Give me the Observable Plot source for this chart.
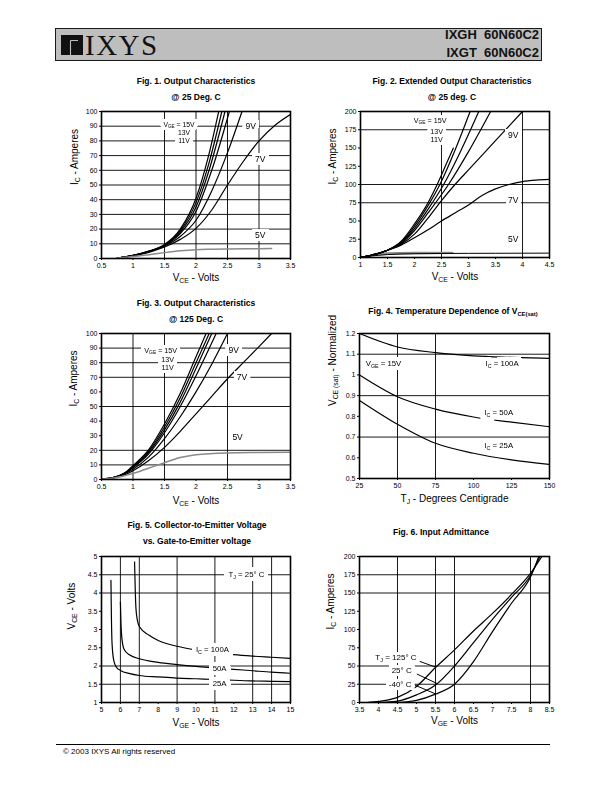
<!DOCTYPE html>
<html><head><meta charset="utf-8">
<script src="https://cdn.jsdelivr.net/npm/d3@7"></script>
<script src="https://cdn.jsdelivr.net/npm/@observablehq/plot@0.6"></script>
<style>
html,body{margin:0;padding:0;background:#fff;}
#page{position:relative;width:595px;height:791px;overflow:hidden;background:#fff;}
#page svg{position:absolute;}
</style></head><body><div id="page"></div><script>
// ---------------- DATA ----------------
// Fig. 1  Output characteristics @ 25 C   (VCE [V], IC [A])
const f1_xTicks = [0.5, 1, 1.5, 2, 2.5, 3, 3.5];
const f1_yTicks = [0, 10, 20, 30, 40, 50, 60, 70, 80, 90, 100];
const f1_gridX = [1.5, 2, 2.5, 3];
const f1_gridY = [10, 20, 30, 40, 50, 60, 70, 80, 90];
const f1_15V = [[0.75,0.3],[1,2.1],[1.25,5],[1.5,9.5],[1.75,20],[2,41],[2.2,70],[2.36,100]];
const f1_13V = [[0.75,0.3],[1,2.1],[1.25,4.9],[1.5,9.2],[1.75,19],[2,38],[2.2,64],[2.41,100]];
const f1_11V = [[0.75,0.3],[1,2],[1.25,4.8],[1.5,9],[1.75,18],[2,35],[2.2,59],[2.46,100]];
const f1_extra = [[0.75,0.3],[1,2],[1.25,4.7],[1.5,8.8],[1.75,17],[2,32],[2.25,60],[2.53,100]];
const f1_9V = [[0.75,0.3],[1,1.9],[1.25,4.5],[1.5,8.5],[1.75,15],[2,26],[2.25,46],[2.5,72],[2.73,100]];
const f1_7V = [[0.75,0.3],[1,1.8],[1.25,4.2],[1.5,7.8],[1.75,13],[2,20.5],[2.25,33],[2.5,50],[2.75,66],[3,80],[3.25,90.5],[3.5,98]];
const f1_5V = [[0.75,0.3],[1,1.3],[1.25,2.6],[1.5,4],[1.75,5.2],[2,6],[2.25,6.3],[2.5,6.5],[3,6.7],[3.2,6.8]];
const f1_vgeLabels = [{x:1.73,y:90.8,text:"V_{GE} = 15V"},{x:1.81,y:85.3,text:"13V"},{x:1.81,y:79.8,text:"11V"}];
const f1_curveLabels = [{x:2.87,y:90.2,text:"9V"},{x:3.02,y:67.4,text:"7V"},{x:3.02,y:15.5,text:"5V"}];

// Fig. 2  Extended output characteristics @ 25 C
const f2_xTicks = [1, 1.5, 2, 2.5, 3, 3.5, 4, 4.5];
const f2_yTicks = [0, 25, 50, 75, 100, 125, 150, 175, 200];
const f2_gridX = [2.5, 4];
const f2_gridY = [75, 100, 175];
const f2_15V = [[1,0.3],[1.25,4],[1.5,10],[1.75,22],[2,46],[2.25,75],[2.42,100],[2.6,130],[2.72,150]];
const f2_13V = [[1,0.3],[1.25,4],[1.5,10],[1.75,21],[2,43],[2.25,71],[2.47,100],[2.75,147],[3.03,200]];
const f2_11V = [[1,0.3],[1.25,4],[1.5,10],[1.75,20],[2,40],[2.25,66],[2.54,100],[2.85,145],[3.19,200]];
const f2_extra = [[1,0.3],[1.25,4],[1.5,10],[1.75,19],[2,37],[2.25,61],[2.63,100],[3,145],[3.41,200]];
const f2_9V = [[1,0.3],[1.25,4],[1.5,10],[1.75,18],[2,32],[2.25,54],[2.5,78],[2.75,100],[3,120],[3.5,160],[4,200]];
const f2_7V = [[1,0.3],[1.25,4],[1.5,10],[1.75,17],[2,27],[2.25,38],[2.5,50],[2.75,61],[3,72],[3.25,85],[3.5,94],[3.75,100],[4,104],[4.25,106],[4.5,107]];
const f2_5V = [[1,0.3],[1.25,2.5],[1.5,4],[1.75,4.8],[2,5.2],[2.5,5.5],[3,5.7],[3.5,5.8],[4,5.9],[4.5,6]];
const f2_5V_shade = [[1.25,4.5],[1.5,5.5],[2,6.2],[2.7,6.4]];
const f2_vgeLabels = [{x:2.29,y:188,text:"V_{GE} = 15V"},{x:2.41,y:173,text:"13V"},{x:2.41,y:162,text:"11V"}];
const f2_curveLabels = [{x:3.83,y:167,text:"9V"},{x:3.83,y:78.5,text:"7V"},{x:3.83,y:25,text:"5V"}];

// Fig. 3  Output characteristics @ 125 C
const f3_xTicks = [0.5, 1, 1.5, 2, 2.5, 3, 3.5];
const f3_yTicks = [0, 10, 20, 30, 40, 50, 60, 70, 80, 90, 100];
const f3_gridX = [1, 1.5, 2.5];
const f3_gridY = [10, 20, 50, 70, 80, 90];
const f3_15V = [[0.5,0.3],[0.7,1.5],[0.9,5.5],[1,9.5],[1.25,20.5],[1.5,38],[1.75,59],[2,84],[2.16,100]];
const f3_13V = [[0.5,0.3],[0.7,1.5],[0.9,5.3],[1,9],[1.25,19.5],[1.5,36],[1.75,56],[2,80],[2.21,100]];
const f3_11V = [[0.5,0.3],[0.7,1.4],[0.9,5.1],[1,8.5],[1.25,18.5],[1.5,34],[1.75,53],[2,76],[2.25,100]];
const f3_extra = [[0.5,0.3],[0.7,1.4],[0.9,5],[1,8],[1.25,17.5],[1.5,32],[1.75,50],[2,71],[2.32,100]];
const f3_9V = [[0.5,0.3],[0.7,1.3],[0.9,4.5],[1,7],[1.25,15.5],[1.5,28],[1.75,43],[2,60],[2.25,79],[2.5,100]];
const f3_7V = [[0.5,0.3],[0.7,1.2],[0.9,3.8],[1,6],[1.25,13],[1.5,22],[1.75,33],[2,45],[2.25,57],[2.5,69],[2.75,80],[3,91],[3.2,100]];
const f3_5V = [[0.5,0.3],[0.7,1],[0.9,3],[1.1,5.5],[1.3,8.5],[1.5,11.5],[1.75,15],[2,17],[2.5,18.2],[3,18.5],[3.5,18.7]];
const f3_vgeLabels = [{x:1.44,y:88.3,text:"V_{GE} = 15V"},{x:1.55,y:82.3,text:"13V"},{x:1.55,y:76.8,text:"11V"}];
const f3_curveLabels = [{x:2.6,y:88.3,text:"9V"},{x:2.73,y:70,text:"7V"},{x:2.66,y:29,text:"5V"}];

// Fig. 4  Temperature dependence of VCE(sat)   (TJ [C], normalized)
const f4_xTicks = [25, 50, 75, 100, 125, 150];
const f4_yTicks = [0.5, 0.6, 0.7, 0.8, 0.9, 1, 1.1, 1.2];
const f4_gridX = [50, 75];
const f4_gridY = [0.7, 0.9, 1.1];
const f4_100A = [[25,1.2],[50,1.135],[75,1.108],[100,1.092],[125,1.085],[150,1.08]];
const f4_50A = [[25,1.0],[50,0.895],[75,0.835],[100,0.797],[125,0.772],[150,0.75]];
const f4_25A = [[25,0.877],[50,0.762],[75,0.67],[100,0.622],[125,0.59],[150,0.568]];
const f4_labels = [{x:40.8,y:1.055,text:"V_{GE} = 15V"},{x:118.8,y:1.055,text:"I_{C} = 100A"},
  {x:116.6,y:0.817,text:"I_{C} = 50A"},{x:116.6,y:0.66,text:"I_{C} = 25A"}];

// Fig. 5  VCE vs VGE   (VGE [V], VCE [V])
const f5_xTicks = [5, 6, 7, 8, 9, 10, 11, 12, 13, 14, 15];
const f5_yTicks = [1, 1.5, 2, 2.5, 3, 3.5, 4, 4.5, 5];
const f5_gridX = [6, 7, 9, 11, 13, 14];
const f5_gridY = [1.5, 2, 4, 4.5];
const f5_100A = [[6.75,4.85],[6.78,4.2],[6.82,3.6],[6.9,3.25],[7,3.08],[7.5,2.85],[8,2.7],[9,2.54],[10,2.44],[11,2.37],[12,2.31],[13,2.27],[14,2.24],[15,2.21]];
const f5_50A = [[6.0,3.75],[6.03,3.2],[6.08,2.75],[6.2,2.45],[6.5,2.3],[7,2.2],[8,2.1],[9,2.04],[10,1.99],[11,1.95],[12,1.91],[13,1.87],[14,1.83],[15,1.8]];
const f5_25A = [[5.5,4.35],[5.52,3.5],[5.56,2.6],[5.65,2.15],[5.8,1.96],[6,1.88],[6.5,1.79],[7,1.74],[8,1.7],[9,1.67],[10,1.65],[11,1.63],[12,1.61],[13,1.59],[14,1.58],[15,1.57]];
const f5_labels = [{x:12.67,y:4.52,text:"T_{J} = 25° C"},{x:10.87,y:2.45,text:"I_{C} = 100A"},
  {x:11.25,y:1.94,text:"50A"},{x:11.25,y:1.53,text:"25A"}];

// Fig. 6  Input admittance   (VGE [V], IC [A])
const f6_xTicks = [3.5, 4, 4.5, 5, 5.5, 6, 6.5, 7, 7.5, 8, 8.5];
const f6_yTicks = [0, 25, 50, 75, 100, 125, 150, 175, 200];
const f6_gridX = [4.5, 5.5, 6, 8];
const f6_gridY = [25, 50, 150, 175];
const f6_125C = [[3.7,0],[4,1.5],[4.5,7],[5,22],[5.5,48],[6,72],[6.5,98],[7,122],[7.5,148],[8,177],[8.3,200]];
const f6_25C = [[4,0],[4.5,2],[5,10.5],[5.5,24],[6,50],[6.5,82],[7,114],[7.5,144],[8,174],[8.25,200]];
const f6_m40C = [[4.4,0],[4.75,1],[5,3],[5.5,11.5],[6,25],[6.5,56],[7,97],[7.5,136],[8,172],[8.22,200]];
const f6_labels = [{x:4.46,y:62,text:"T_{J} = 125° C"},{x:4.61,y:43.5,text:"25° C"},{x:4.57,y:25,text:"-40° C"}];
const f6_leaders = [{x1:5.05,y1:57,x2:5.5,y2:48.5},{x1:5.01,y1:39,x2:5.54,y2:26},{x1:4.95,y1:24,x2:5.49,y2:12}];

// ---------------- RENDERING ----------------
const FONT = "'Liberation Sans', Arial, Helvetica, sans-serif";
const svgNS = "http://www.w3.org/2000/svg";
const page = document.getElementById("page");
let chartCount = 0;

function subscriptify(root) {
  const walker = document.createTreeWalker(root, NodeFilter.SHOW_TEXT);
  const nodes = [];
  while (walker.nextNode()) if (/[_^]\{/.test(walker.currentNode.nodeValue)) nodes.push(walker.currentNode);
  for (const n of nodes) {
    const parts = n.nodeValue.split(/([_^]\{[^}]*\})/);
    const frag = document.createDocumentFragment();
    for (const p of parts) {
      if (!p) continue;
      const m = p.match(/^([_^])\{([^}]*)\}$/);
      if (m) {
        const t = document.createElementNS(svgNS, "tspan");
        t.setAttribute("style", "font-size:0.68em");
        t.setAttribute("baseline-shift", m[1] === "_" ? "-0.3em" : "super");
        t.textContent = m[2];
        frag.appendChild(t);
      } else frag.appendChild(document.createTextNode(p));
    }
    n.parentNode.replaceChild(frag, n);
  }
}

// white knock-out box behind the in-plot labels: an SVG filter that lays a dilated, opaque white copy under the text group
function addKnockout(svg, labelTexts, radius) {
  const id = "knock" + (++chartCount);
  const defs = d3.select(svg).insert("defs", ":first-child");
  const f = defs.append("filter").attr("id", id).attr("filterUnits", "userSpaceOnUse")
    .attr("color-interpolation-filters", "sRGB")
    .attr("x", -100).attr("y", -100).attr("width", 600).attr("height", 500);
  f.append("feComponentTransfer").attr("in", "SourceAlpha").attr("result", "a")
    .append("feFuncA").attr("type", "linear").attr("slope", 20).attr("intercept", 0);
  f.append("feMorphology").attr("in", "a").attr("operator", "dilate").attr("radius", radius).attr("result", "d");
  f.append("feFlood").attr("flood-color", "#fff").attr("flood-opacity", 1).attr("result", "w");
  f.append("feComposite").attr("in", "w").attr("in2", "d").attr("operator", "in").attr("result", "box");
  const m = f.append("feMerge");
  m.append("feMergeNode").attr("in", "box");
  m.append("feMergeNode").attr("in", "SourceGraphic");
  const groups = new Set();
  d3.select(svg).selectAll("text").each(function() {
    if (labelTexts.has(this.textContent) && this.parentNode.tagName.toLowerCase() === "g") groups.add(this.parentNode);
  });
  for (const g of groups) g.setAttribute("filter", `url(#${id})`);
}

function makeChart(cfg) {
  const [L, T, R, B] = cfg.frame;
  const mL = 48, mR = 14, mT = 10, mB = 34;
  const fmt = d => String(d);
  const marks = [];
  if (cfg.gridY) marks.push(Plot.ruleY(cfg.gridY, {stroke: "#000", strokeWidth: 0.9}));
  if (cfg.gridX) marks.push(Plot.ruleX(cfg.gridX, {stroke: "#000", strokeWidth: 0.9}));
  for (const c of cfg.curves)
    marks.push(Plot.line(c.data, {curve: "monotone-x", stroke: c.color || "#000", strokeWidth: c.width || 1.2, clip: true}));
  if (cfg.leaders) marks.push(Plot.link(cfg.leaders, {x1: "x1", y1: "y1", x2: "x2", y2: "y2", stroke: "#000", strokeWidth: 1}));
  const labelTexts = new Set();
  for (const lg of cfg.labels) {
    lg.data.forEach(d => labelTexts.add(d.text));
    marks.push(Plot.text(lg.data, {x: "x", y: "y", text: "text", fontSize: lg.size, fill: "#000"}));
  }
  marks.push(Plot.frame({stroke: "#000", strokeWidth: 1.6}));
  marks.push(Plot.text([cfg.yLabel], {text: d => d, frameAnchor: "left", dx: cfg.yDx, rotate: -90, fontSize: 10, fill: "#000"}));
  marks.push(Plot.text([cfg.xLabel], {text: d => d, frameAnchor: "bottom", dy: cfg.xDy, fontSize: 10, fill: "#000"}));
  const svg = Plot.plot({
    width: R - L + mL + mR, height: B - T + mT + mB,
    marginLeft: mL, marginRight: mR, marginTop: mT, marginBottom: mB,
    x: {domain: cfg.xDomain, ticks: cfg.xTicks, tickFormat: fmt, tickSize: 2, tickPadding: 3, label: null},
    y: {domain: cfg.yDomain, ticks: cfg.yTicks, tickFormat: fmt, tickSize: 2, tickPadding: 2, label: null},
    style: {fontFamily: FONT, fontSize: "7px", color: "#000", background: "transparent", overflow: "visible"},
    marks
  });
  svg.style.position = "absolute";
  svg.style.left = (L - mL) + "px";
  svg.style.top = (T - mT) + "px";
  addKnockout(svg, labelTexts, cfg.knock || 3);
  subscriptify(svg);
  page.appendChild(svg);
}

makeChart({frame: [101, 111, 290, 258], xDomain: [0.5, 3.5], yDomain: [0, 100],
  xTicks: f1_xTicks, yTicks: f1_yTicks, gridX: f1_gridX, gridY: f1_gridY,
  curves: [{data: f1_15V}, {data: f1_13V}, {data: f1_11V}, {data: f1_extra}, {data: f1_9V}, {data: f1_7V},
           {data: f1_5V, color: "#8a8a8a", width: 1.5}],
  labels: [{data: f1_vgeLabels, size: 6.8}, {data: f1_curveLabels, size: 8.5}], knock: 3,
  yLabel: "I_{C} - Amperes", yDx: -27, xLabel: "V_{CE} - Volts", xDy: 22});

makeChart({frame: [360, 111, 549, 257], xDomain: [1, 4.5], yDomain: [0, 200],
  xTicks: f2_xTicks, yTicks: f2_yTicks, gridX: f2_gridX, gridY: f2_gridY,
  curves: [{data: f2_5V_shade, color: "#8a8a8a", width: 2.4}, {data: f2_5V, width: 1},
           {data: f2_15V}, {data: f2_13V}, {data: f2_11V}, {data: f2_extra}, {data: f2_9V}, {data: f2_7V}],
  labels: [{data: f2_vgeLabels, size: 7.2}, {data: f2_curveLabels, size: 8.5}], knock: 3,
  yLabel: "I_{C} - Amperes", yDx: -28, xLabel: "V_{CE} - Volts", xDy: 22});

makeChart({frame: [101, 333, 290, 479], xDomain: [0.5, 3.5], yDomain: [0, 100],
  xTicks: f3_xTicks, yTicks: f3_yTicks, gridX: f3_gridX, gridY: f3_gridY,
  curves: [{data: f3_15V}, {data: f3_13V}, {data: f3_11V}, {data: f3_extra}, {data: f3_9V}, {data: f3_7V},
           {data: f3_5V, color: "#8a8a8a", width: 1.5}],
  labels: [{data: f3_vgeLabels, size: 7.2}, {data: f3_curveLabels, size: 8.5}], knock: 3,
  yLabel: "I_{C} - Amperes", yDx: -28, xLabel: "V_{CE} - Volts", xDy: 24});

makeChart({frame: [359, 333, 549, 478], xDomain: [25, 150], yDomain: [0.5, 1.2],
  xTicks: f4_xTicks, yTicks: f4_yTicks, gridX: f4_gridX, gridY: f4_gridY,
  curves: [{data: f4_100A}, {data: f4_50A}, {data: f4_25A}],
  labels: [{data: f4_labels, size: 7.8}], knock: 3.5,
  yLabel: "V_{CE (sat)} - Normalized", yDx: -27, xLabel: "T_{J} - Degrees Centigrade", xDy: 23});

makeChart({frame: [101, 556, 290, 702], xDomain: [5, 15], yDomain: [1, 5],
  xTicks: f5_xTicks, yTicks: f5_yTicks, gridX: f5_gridX, gridY: f5_gridY,
  curves: [{data: f5_100A}, {data: f5_50A}, {data: f5_25A}],
  labels: [{data: f5_labels, size: 7.8}], knock: 3.5,
  yLabel: "V_{CE} - Volts", yDx: -30, xLabel: "V_{GE} - Volts", xDy: 23});

makeChart({frame: [359, 556, 549, 702], xDomain: [3.5, 8.5], yDomain: [0, 200],
  xTicks: f6_xTicks, yTicks: f6_yTicks, gridX: f6_gridX, gridY: f6_gridY,
  curves: [{data: f6_125C}, {data: f6_25C}, {data: f6_m40C}],
  leaders: f6_leaders,
  labels: [{data: f6_labels, size: 8}], knock: 2.5,
  yLabel: "I_{C} - Amperes", yDx: -29, xLabel: "V_{GE} - Volts", xDy: 21});

// ---------------- PAGE DECORATION: header, titles, footer ----------------
const over = d3.select(page).append("svg").attr("width", 595).attr("height", 791)
  .style("left", "0px").style("top", "0px").style("pointer-events", "none")
  .style("font-family", FONT);

over.append("rect").attr("x", 55.5).attr("y", 28.5).attr("width", 486).attr("height", 32)
  .attr("fill", "#bebebe").attr("stroke", "#1a1a1a").attr("stroke-width", 1);
const logo = over.append("g").attr("transform", "translate(61,35)");
logo.append("rect").attr("width", 22).attr("height", 20).attr("fill", "#111");
logo.append("path").attr("d", "M9.5,5.5 V20 M9.5,5.5 H17").attr("stroke", "#bebebe").attr("stroke-width", 1.1).attr("fill", "none");
over.append("text").attr("x", 85).attr("y", 55).attr("font-family", "'Liberation Serif','Times New Roman',serif")
  .attr("font-size", 29).attr("letter-spacing", 1.5).attr("fill", "#111").text("IXYS");
over.append("text").attr("x", 539).attr("y", 39.3).attr("text-anchor", "end").attr("font-weight", "bold")
  .attr("font-size", 13).attr("fill", "#111").style("white-space", "pre").text("IXGH  60N60C2");
over.append("text").attr("x", 539).attr("y", 56.7).attr("text-anchor", "end").attr("font-weight", "bold")
  .attr("font-size", 13).attr("fill", "#111").style("white-space", "pre").text("IXGT  60N60C2");

const titles = [
  {x: 196, y: 81, t: "Fig. 1. Output Characteristics"},
  {x: 196, y: 97, t: "@ 25 Deg. C"},
  {x: 452, y: 81, t: "Fig. 2. Extended Output Characteristics"},
  {x: 452, y: 97, t: "@ 25 deg. C"},
  {x: 196, y: 303, t: "Fig. 3. Output Characteristics"},
  {x: 196, y: 319, t: "@ 125 Deg. C"},
  {x: 453, y: 311, t: "Fig. 4. Temperature Dependence of V_{CE(sat)}"},
  {x: 197, y: 525, t: "Fig. 5. Collector-to-Emitter Voltage"},
  {x: 197, y: 541, t: "vs. Gate-to-Emitter voltage"},
  {x: 441, y: 532, t: "Fig. 6. Input Admittance"}
];
over.selectAll("text.title").data(titles).join("text").attr("class", "title")
  .attr("x", d => d.x).attr("y", d => d.y).attr("dy", "0.35em").attr("text-anchor", "middle")
  .attr("font-weight", "bold").attr("font-size", 8.5).attr("fill", "#000").text(d => d.t);

over.append("line").attr("x1", 56).attr("x2", 550).attr("y1", 744.5).attr("y2", 744.5).attr("stroke", "#000").attr("stroke-width", 1);
over.append("text").attr("x", 63).attr("y", 754).attr("font-size", 8).attr("fill", "#000").text("© 2003 IXYS All rights reserved");
subscriptify(over.node());
</script></body></html>
